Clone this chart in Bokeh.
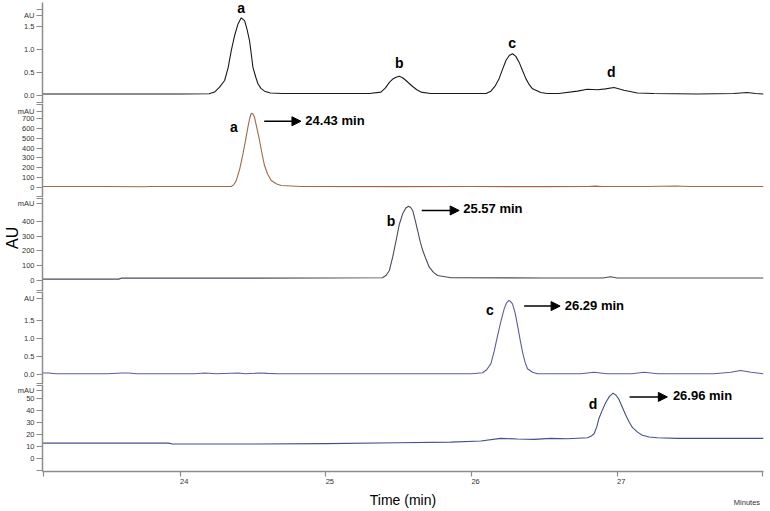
from bokeh.plotting import figure
from bokeh.layouts import column
from bokeh.models import Range1d, FixedTicker, Label, Arrow, NormalHead
from bokeh.embed import file_html
from bokeh.resources import INLINE

X_START, X_END = 23.056, 28.005
NB = "\u00a0"

# ---- panel 1: mixture (AU)
t_mix = [23.056, 23.5, 24.0, 24.2, 24.237, 24.27, 24.306, 24.33, 24.352, 24.375, 24.398, 24.42,
         24.443, 24.46, 24.477, 24.49, 24.50, 24.52, 24.535, 24.555, 24.58, 24.62, 24.7, 25.0,
         25.3, 25.379, 25.41, 25.437, 25.46, 25.483, 25.505, 25.528, 25.551, 25.575, 25.597,
         25.625, 25.654, 25.72, 25.9, 26.1, 26.134, 26.165, 26.19, 26.215, 26.237, 26.26,
         26.282, 26.305, 26.328, 26.35, 26.374, 26.397, 26.42, 26.476, 26.52, 26.6, 26.728,
         26.796, 26.865, 26.92, 26.979, 27.047, 27.14, 27.253, 27.55, 27.8, 27.893, 27.95, 28.005]
au_mix = [0.04, 0.04, 0.04, 0.045, 0.08, 0.18, 0.33, 0.60, 0.98, 1.30, 1.55, 1.68,
          1.62, 1.43, 1.19, 0.88, 0.62, 0.40, 0.26, 0.16, 0.10, 0.06, 0.05, 0.05,
          0.05, 0.08, 0.17, 0.29, 0.36, 0.40, 0.42, 0.39, 0.33, 0.26, 0.20,
          0.13, 0.08, 0.05, 0.05, 0.05, 0.10, 0.22, 0.37, 0.58, 0.76, 0.87,
          0.905, 0.85, 0.72, 0.55, 0.37, 0.24, 0.15, 0.07, 0.05, 0.05, 0.10,
          0.14, 0.13, 0.15, 0.18, 0.12, 0.06, 0.05, 0.04, 0.05, 0.07, 0.05, 0.04]

# ---- panel 2: standard a (mAU)
t_a = [23.056, 23.5, 23.74, 23.8, 24.0, 24.3, 24.352, 24.37, 24.386, 24.41, 24.432, 24.45,
       24.466, 24.478, 24.489, 24.5, 24.511, 24.528, 24.546, 24.563, 24.58, 24.6, 24.626,
       24.66, 24.694, 24.83, 25.5, 26.0, 26.5, 26.8, 26.85, 26.9, 27.2, 27.4, 27.5, 28.005]
mau_a = [10, 11, 8, 10, 10, 10, 10, 30, 71, 190, 342, 480,
         612, 700, 753, 745, 713, 600, 477, 340, 223, 140, 71,
         38, 20, 10, 9, 10, 9, 10, 14, 10, 10, 16, 10, 10]

# ---- panel 3: standard b (mAU)
t_b = [23.056, 23.58, 23.6, 24.5, 25.0, 25.39, 25.415, 25.437, 25.46, 25.483, 25.505, 25.528,
       25.55, 25.569, 25.583, 25.597, 25.614, 25.631, 25.648, 25.666, 25.69, 25.711, 25.74,
       25.768, 25.86, 26.5, 26.9, 26.956, 27.0, 28.005]
mau_b = [9, 9, 16, 16, 17, 18, 35, 68, 160, 271, 380, 452,
         492, 504, 495, 475, 410, 339, 265, 203, 140, 90, 55,
         34, 18, 17, 17, 25, 17, 17]

# ---- panel 4: standard c (AU)
t_c = [23.056, 23.1, 23.15, 23.5, 23.6, 23.65, 23.7, 24.1, 24.17, 24.25, 24.4, 24.45, 24.55,
       24.6, 24.67, 25.5, 26.0, 26.077, 26.105, 26.134, 26.157, 26.18, 26.203, 26.225, 26.24,
       26.255, 26.268, 26.282, 26.3, 26.317, 26.334, 26.351, 26.368, 26.385, 26.42, 26.454,
       26.75, 26.842, 26.93, 27.1, 27.185, 27.28, 27.664, 27.78, 27.847, 27.92, 28.005]
au_c = [0.04, 0.04, 0.02, 0.02, 0.04, 0.04, 0.02, 0.02, 0.04, 0.02, 0.04, 0.02, 0.04,
        0.03, 0.02, 0.02, 0.02, 0.05, 0.13, 0.30, 0.65, 1.08, 1.47, 1.81, 1.97,
        2.04, 2.02, 1.95, 1.70, 1.35, 0.97, 0.62, 0.34, 0.16, 0.06, 0.02,
        0.02, 0.063, 0.02, 0.02, 0.06, 0.02, 0.02, 0.06, 0.11, 0.06, 0.02]

# ---- panel 5: standard d (mAU)
t_d = [23.056, 23.5, 23.92, 23.95, 24.5, 25.0, 25.5, 25.86, 26.065, 26.2, 26.317, 26.43,
       26.545, 26.66, 26.797, 26.82, 26.842, 26.86, 26.876, 26.9, 26.922, 26.948, 26.972,
       26.993, 27.013, 27.036, 27.059, 27.082, 27.105, 27.14, 27.173, 27.22, 27.276, 27.413, 28.005]
mau_d = [12.7, 12.7, 12.7, 11.9, 12.0, 12.3, 13.0, 13.5, 14.5, 16.6, 16.1, 15.8,
         16.6, 16.3, 17.1, 18.3, 20.5, 26.0, 33.4, 40.5, 46.4, 51.5, 54.2,
         52.5, 49.0, 42.5, 36.0, 30.5, 25.7, 21.8, 19.2, 17.8, 17.1, 16.6, 16.6]

x_ticks = [24, 25, 26, 27, 28]
x_tick_labels = ["24", "25", "26", "27", ""]

retention = ["24.43 min", "25.57 min", "26.29 min", "26.96 min"]

W = 770
LEFT, RIGHT = 41, 7
panels = [
    dict(t=t_mix, y=au_mix, color="#1a1a1a", yr=(-0.166, 2.011), top_tick=1.86, ticks=[0, 0.5, 1.0, 1.5],
         labels=["0.0", "0.5", "1.0", "1.5"], unit="AU", unit_y=1.73, eps=0.03, fh=101, top=2, bottom=0),
    dict(t=t_a, y=mau_a, color="#a0694a", yr=(-101, 852), top_tick=837, ticks=[0, 100, 200, 300, 400, 500, 600, 700],
         labels=["0", "100", "200", "300", "400", "500", "600", "700"], unit="mAU", unit_y=775, eps=15, fh=94, top=0, bottom=0),
    dict(t=t_b, y=mau_b, color="#4a4a5c", yr=(-75, 563), top_tick=553, ticks=[0, 100, 200, 300, 400],
         labels=["0", "100", "200", "300", "400"], unit="mAU", unit_y=522, eps=10, fh=94, top=0, bottom=0),
    dict(t=t_c, y=au_c, color="#5b5ba6", yr=(-0.276, 2.29), top_tick=2.25, ticks=[0, 0.5, 1.0, 1.5],
         labels=["0.0", "0.5", "1.0", "1.5"], unit="AU", unit_y=2.11, eps=0.04, fh=93, top=0, bottom=0),
    dict(t=t_d, y=mau_d, color="#42508e", yr=(-10.9, 61.4), top_tick=60.2, ticks=[0, 10, 20, 30, 40, 50],
         labels=["0", "10", "20", "30", "40", "50"], unit="mAU", unit_y=56.2, eps=1.2, fh=93, top=0, bottom=34),
]

FONT = "Liberation Sans"
AXC = "#8c8c8c"


def add_label(p, x, y, text, size="14px", bold=True, align="center", color="black"):
    p.add_layout(Label(x=x, y=y, text=text, text_font=FONT, text_font_size=size,
                       text_font_style="bold" if bold else "normal", text_align=align,
                       text_baseline="middle", text_color=color))


def style_axis(ax):
    ax.axis_line_color = AXC
    ax.axis_line_width = 1.5
    ax.major_tick_line_color = AXC
    ax.major_tick_line_width = 1.2
    ax.major_tick_in = 0
    ax.major_tick_out = 6
    ax.minor_tick_in = 0
    ax.minor_tick_out = 0
    ax.major_label_text_font = FONT
    ax.major_label_text_font_size = "7.5px"
    ax.major_label_text_color = "#333333"
    ax.major_label_standoff = 2


figs = []
shared_x = Range1d(X_START, X_END)
for i, pc in enumerate(panels):
    last = i == len(panels) - 1
    p = figure(width=W, height=pc["fh"] + pc["top"] + pc["bottom"], x_range=shared_x,
               y_range=Range1d(*pc["yr"]), output_backend="svg", toolbar_location=None, tools="",
               x_axis_location="below" if last else None)
    p.min_border = 0
    p.min_border_left = LEFT
    p.min_border_right = RIGHT
    p.min_border_top = pc["top"]
    p.min_border_bottom = pc["bottom"]
    p.outline_line_color = None
    p.xgrid.visible = False
    p.ygrid.visible = False
    p.background_fill_color = "white"
    p.border_fill_color = "white"

    y0, y1 = pc["yr"]
    yt = [y0 + pc["eps"]] + pc["ticks"] + [pc["unit_y"], pc["top_tick"]]
    yl = [""] + pc["labels"] + [pc["unit"], ""]
    ax = p.yaxis[0]
    style_axis(ax)
    ax.ticker = FixedTicker(ticks=yt)
    ax.major_label_overrides = {k: v for k, v in zip(yt, yl)}

    p.line(pc["t"], pc["y"], line_color=pc["color"], line_width=1.1)

    if i == 2:
        ax.axis_label = NB * 3 + "AU"
        ax.axis_label_text_font = FONT
        ax.axis_label_text_font_size = "16px"
        ax.axis_label_text_font_style = "normal"
        ax.axis_label_text_color = "black"
        ax.axis_label_standoff = -6

    if last:
        xa = p.xaxis[0]
        style_axis(xa)
        xa.major_tick_out = 5
        xa.major_label_standoff = 0
        xt = [X_START + 0.004] + x_ticks
        xl = [""] + [(NB * 4 + s) if s else ("\n\nMinutes" + NB * 5) for s in x_tick_labels]
        xa.ticker = FixedTicker(ticks=xt)
        xa.major_label_overrides = {k: v for k, v in zip(xt, xl)}
        xa.axis_label = "Time (min)"
        xa.axis_label_text_font = FONT
        xa.axis_label_text_font_size = "14px"
        xa.axis_label_text_font_style = "normal"
        xa.axis_label_text_color = "black"
        xa.axis_label_standoff = -18
    figs.append(p)

p1, p2, p3, p4, p5 = figs

# peak letters on the mixture trace
for txt, x, y in [("a", 24.42, 1.90), ("b", 25.505, 0.70), ("c", 26.28, 1.13), ("d", 26.96, 0.51)]:
    add_label(p1, x, y, txt)

# single-standard annotations
ann = [
    (p2, "a", 24.37, 611, 24.578, 24.83, 672, 24.86, 680),
    (p3, "b", 25.448, 402, 25.659, 25.916, 475, 25.944, 486),
    (p4, "c", 26.127, 1.77, 26.362, 26.609, 1.887, 26.641, 1.90),
    (p5, "d", 26.835, 45.1, 27.086, 27.345, 51.1, 27.383, 52),
]
for (p, letter, lx, ly, ax0, ax1, ay, tx, ty), rt in zip(ann, retention):
    add_label(p, lx, ly, letter)
    p.add_layout(Arrow(end=NormalHead(size=9, fill_color="black", line_color="black"),
                       x_start=ax0, y_start=ay, x_end=ax1, y_end=ay,
                       line_color="black", line_width=1.5))
    add_label(p, tx, ty, rt, size="13px", align="left")

layout = column(*figs, spacing=0)
open("out.html", "w").write(file_html(layout, INLINE))
